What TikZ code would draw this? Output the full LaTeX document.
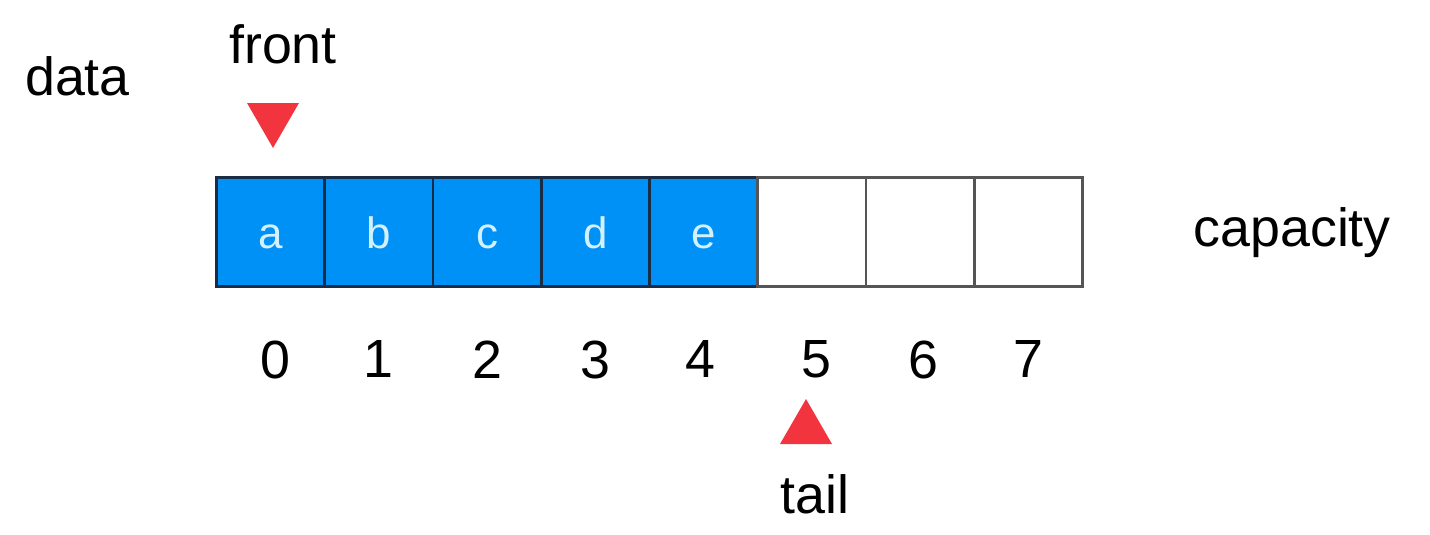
\documentclass[tikz,border=0pt]{standalone}
\usepackage{fontspec}
\setmainfont{Liberation Sans}
\usepackage{tikz}
\usetikzlibrary{positioning}
\usetikzlibrary{shapes.geometric}

\definecolor{cellblue}{RGB}{0,145,246}
\definecolor{celltext}{RGB}{210,240,255}
\definecolor{cellline}{RGB}{25,45,70}
\definecolor{emptyline}{RGB}{85,85,85}
\definecolor{markred}{RGB}{242,52,62}

\tikzset{
  labeltext/.style={inner sep=0, font=\fontsize{15.3}{18}\selectfont},
  cell/.style={rectangle, minimum height=1.09cm, minimum width=1.0825cm, line width=0.8pt, inner sep=0, anchor=south west},
  fullcell/.style={cell, draw=cellline, fill=cellblue, text=celltext, text height=0.33cm, text depth=0cm, font=\fontsize{12.5}{15}\selectfont},
  emptycell/.style={cell, draw=emptyline, fill=white},
  marker/.style={regular polygon, regular polygon sides=3, fill=markred, minimum size=0.6cm, inner sep=0},
}

\begin{document}
\begin{tikzpicture}

\useasboundingbox (0,0) rectangle (14.30,-5.34);

\node at (0.775,-0.765)[labeltext] (data) {data};

\node at (2.15,-2.88)[fullcell] (c0) {a};
\node at (3.2325,-2.88)[fullcell] (c1) {b};
\node at (4.315,-2.88)[fullcell] (c2) {c};
\node at (5.3975,-2.88)[fullcell] (c3) {d};
\node at (6.48,-2.88)[fullcell] (c4) {e};
\node at (7.5625,-2.88)[emptycell] (c5) {};
\node at (8.645,-2.88)[emptycell] (c6) {};
\node at (9.7275,-2.88)[emptycell] (c7) {};

\node[labeltext, right=1.09cm of c7] (capacity) {capacity};

\node[labeltext, below=0.52cm of c0, xshift=0.05cm] (i0) {0};
\node[labeltext, below=0.52cm of c1] (i1) {1};
\node[labeltext, below=0.52cm of c2] (i2) {2};
\node[labeltext, below=0.52cm of c3] (i3) {3};
\node[labeltext, below=0.52cm of c4, xshift=-0.03cm] (i4) {4};
\node[labeltext, below=0.52cm of c5, xshift=0.05cm] (i5) {5};
\node[labeltext, below=0.52cm of c6, xshift=0.03cm] (i6) {6};
\node[labeltext, below=0.52cm of c7] (i7) {7};

% pointers
\node at (2.73,-1.18)[marker, shape border rotate=180] (fronttri) {};
\node[labeltext, above=0.38cm of fronttri, xshift=0.1cm] (front) {front};

\node at (8.06,-4.29)[marker] (tailtri) {};
\node[labeltext, below=0.29cm of tailtri, xshift=0.09cm] (tail) {tail};

\end{tikzpicture}
\end{document}
